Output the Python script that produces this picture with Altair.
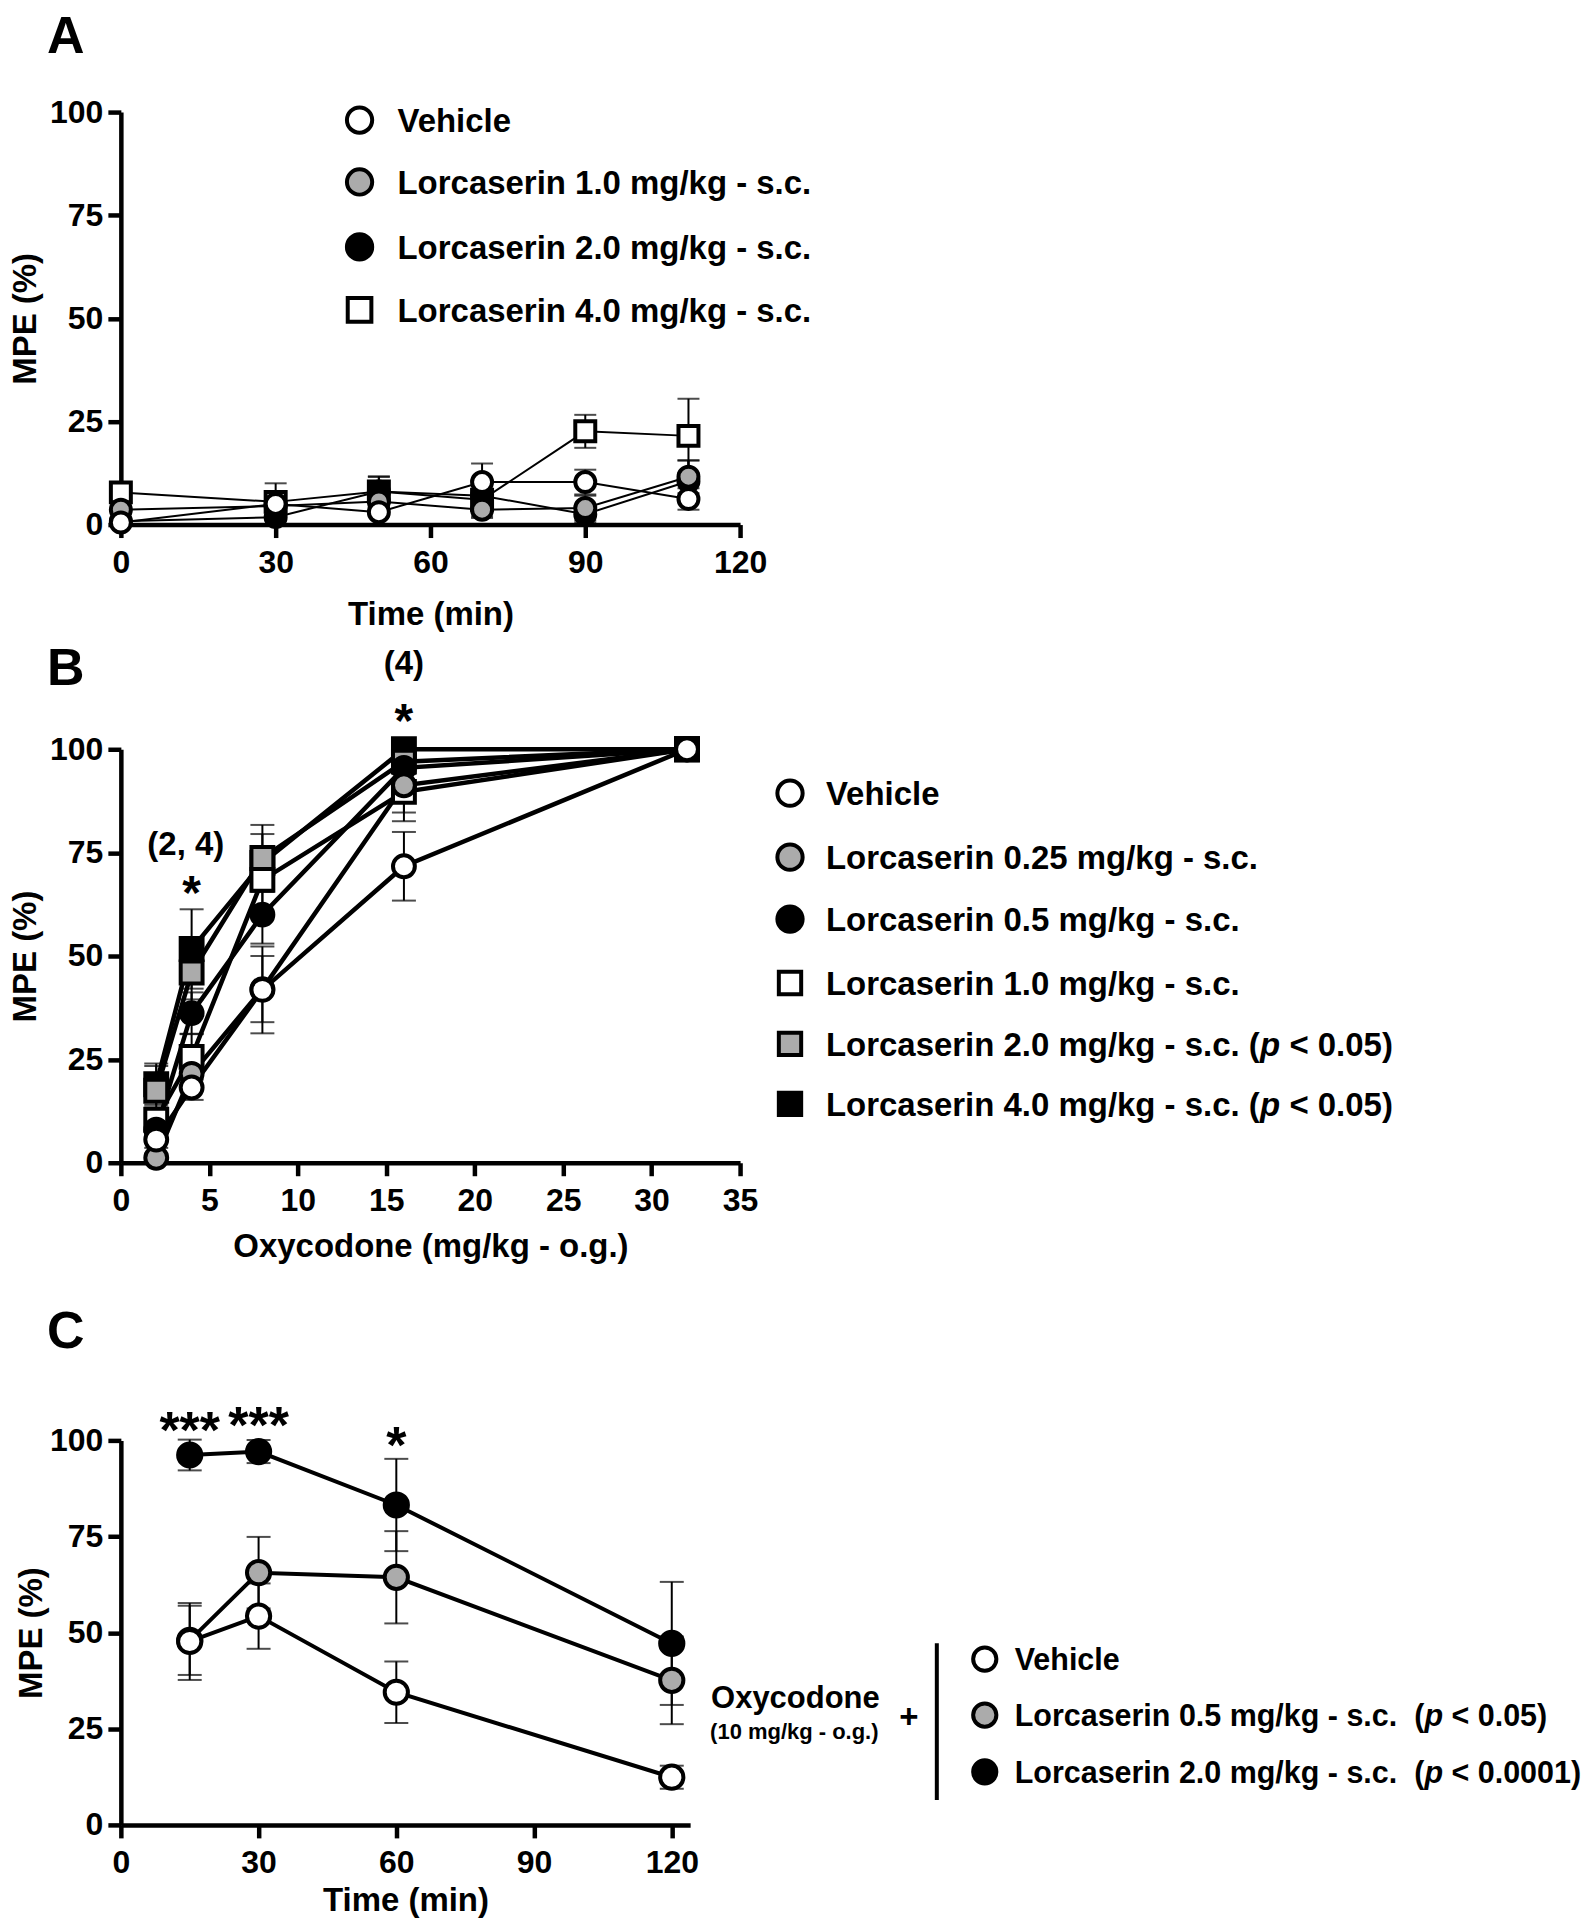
import altair as alt
import pandas as pd

FONT = "Liberation Sans"
GRAY = "#ababab"

# ---------------- Panel A data ----------------
A_time = [0, 30, 50, 70, 90, 110]
A_series = ["Vehicle", "Lorcaserin 1.0 mg/kg - s.c.", "Lorcaserin 2.0 mg/kg - s.c.",
            "Lorcaserin 4.0 mg/kg - s.c."]
A_vehicle = [0.5, 5.0, 3.0, 10.3, 10.3, 6.2]
A_vehicle_sem = [0.5, 2.0, 1.0, 4.5, 3.0, 2.6]
A_l10 = [3.6, 4.5, 5.6, 3.6, 4.0, 11.6]
A_l10_sem = [1.0, 1.5, 1.5, 2.0, 3.0, 4.0]
A_l20 = [0.8, 1.8, 8.0, 7.0, 2.5, 10.5]
A_l20_sem = [0.8, 3.0, 3.7, 3.0, 2.0, 5.0]
A_l40 = [7.8, 5.5, 8.0, 6.0, 22.6, 21.5]
A_l40_sem = [1.5, 4.5, 3.5, 4.0, 4.0, 9.0]
A_shapes = ["circle", "circle", "circle", "square"]
A_fills = ["white", GRAY, "black", "white"]

# ---------------- Panel B data ----------------
B_dose = [2, 4, 8, 16, 32]
B_series = ["Vehicle", "Lorcaserin 0.25 mg/kg - s.c.", "Lorcaserin 0.5 mg/kg - s.c.",
            "Lorcaserin 1.0 mg/kg - s.c.", "Lorcaserin 2.0 mg/kg - s.c.",
            "Lorcaserin 4.0 mg/kg - s.c."]
B_vehicle = [5.6, 18.2, 41.8, 71.7, 100]
B_vehicle_sem = [2.0, 3.0, 10.5, 8.3, 0]
B_l025 = [1.2, 21.5, 42.0, 91.3, 100]
B_l025_sem = [1.0, 3.0, 8.0, 8.7, 0]
B_l05 = [8.0, 36.2, 60.0, 95.5, 100]
B_l05_sem = [3.0, 5.0, 7.0, 4.0, 0]
B_l10 = [10.4, 25.6, 68.4, 89.7, 100]
B_l10_sem = [3.0, 5.5, 8.0, 5.0, 0]
B_l20 = [17.4, 46.0, 73.7, 97.0, 100]
B_l20_sem = [6.0, 6.5, 8.0, 3.0, 0]
B_l40 = [19.0, 51.7, 72.5, 100, 100]
B_l40_sem = [5.0, 9.6, 7.0, 0, 0]
B_shapes = ["circle", "circle", "circle", "square", "square", "square"]
B_fills = ["white", GRAY, "black", "white", GRAY, "black"]
B_pvals = [None, None, None, None, "< 0.05)", "< 0.05)"]
B_annot_x = [3.67, 4, 16, 16]
B_annot_y = [74.5, 61.4, 118.1, 103.0]
B_annot_t = ["(2, 4)", "*", "(4)", "*"]

# ---------------- Panel C data ----------------
C_time = [15, 30, 60, 120]
C_series = ["Vehicle", "Lorcaserin 0.5 mg/kg - s.c.", "Lorcaserin 2.0 mg/kg - s.c."]
C_vehicle = [47.7, 54.3, 34.5, 12.4]
C_vehicle_sem = [10.0, 8.5, 8.0, 3.0]
C_l05 = [48.0, 65.6, 64.4, 37.6]
C_l05_sem = [9.0, 9.3, 12.0, 11.4]
C_l20 = [96.2, 97.1, 83.2, 47.2]
C_l20_sem = [4.0, 3.0, 12.0, 16.0]
C_shapes = ["circle", "circle", "circle"]
C_fills = ["white", GRAY, "black"]
C_pvals = [None, "< 0.05)", "< 0.0001)"]
C_annot_x = [15, 30, 60]
C_annot_y = [98.1, 99.2, 94.1]
C_annot_t = ["***", "***", "*"]

# ---------------- helpers ----------------
AW = {' ': 278, '(': 333, ')': 333, '.': 278, ',': 278, '-': 333, '/': 278, '<': 584,
      'L': 611, 'o': 611, 'r': 389, 'c': 556, 'a': 556, 's': 556, 'e': 556, 'i': 278,
      'n': 611, 'm': 889, 'g': 611, 'k': 556, 'p': 611, 'V': 667, 'h': 611, 'l': 278}
MSW = 4  # marker stroke width


def tw(s, fs):
    return sum(AW.get(ch, 556) for ch in s) * fs / 1000.0


def long_df(xs, series, means, sems):
    rows = []
    for k, (s, m, e) in enumerate(zip(series, means, sems)):
        for x, v, err in zip(xs, m, e):
            rows.append(dict(x=x, y=v, lo=max(v - err, 0), hi=v + err, err=err,
                             series=s, draw=-k))
    return pd.DataFrame(rows)


def one():
    return pd.DataFrame({"a": [0]})


def txt(t, x, y, fs, align="left", style="normal", weight="bold"):
    return alt.Chart(one()).mark_text(
        text=t, font=FONT, fontSize=fs, fontWeight=weight, fontStyle=style,
        align=align, baseline="alphabetic", color="black"
    ).encode(x=alt.value(x), y=alt.value(y))


def sym(shape, fill, x, y, size):
    return alt.Chart(one()).mark_point(
        filled=True, shape=shape, fill=fill, stroke="black", strokeWidth=MSW,
        size=size, opacity=1, fillOpacity=1
    ).encode(x=alt.value(x), y=alt.value(y))


def legend_layers(series, shapes, fills, pvals, mx, tx, rows, fs, msize_c, msize_s, gap2=False):
    layers = []
    for i, s in enumerate(series):
        cy = rows[i]
        size = msize_c if shapes[i] == "circle" else msize_s
        layers.append(sym(shapes[i], fills[i], mx, cy, size))
        base_y = cy + 0.36 * fs
        if pvals is None or pvals[i] is None:
            layers.append(txt(s, tx, base_y, fs))
        else:
            if gap2:
                layers.append(txt(s, tx, base_y, fs))
                x1 = tx + tw(s, fs) + 2 * tw(" ", fs)
                layers.append(txt("(", x1, base_y, fs))
                x2 = x1 + tw("(", fs)
            else:
                first = s + " ("
                layers.append(txt(first, tx, base_y, fs))
                x2 = tx + tw(first, fs)
            layers.append(txt("p", x2, base_y, fs, style="italic"))
            x3 = x2 + tw("p", fs) + tw(" ", fs)
            layers.append(txt(pvals[i], x3, base_y, fs))
    return layers


def panel(df, series, shapes, fills, xdom, xvals, width, height, line_w, msize,
          cap_w, title_x, xtitle, xtitle_y, extra):
    xs = alt.Scale(domain=xdom, nice=False, zero=False)
    ys = alt.Scale(domain=[0, 100], nice=False)
    xaxis = alt.Axis(values=xvals, title=xtitle, titleY=xtitle_y,
                     titleBaseline="alphabetic", labelFlush=False, labelOverlap=False)
    yaxis = alt.Axis(values=[0, 25, 50, 75, 100], title="MPE (%)", titleX=title_x,
                     titleBaseline="alphabetic", labelOverlap=False)
    X = alt.X("x:Q", scale=xs, axis=xaxis)
    base = alt.Chart(df)
    errd = base.transform_filter("datum.err > 0")
    stems = errd.mark_rule(color="black", strokeWidth=2).encode(
        x=X, y=alt.Y("lo:Q", scale=ys, axis=yaxis), y2="hi:Q")
    cap_hi = errd.mark_tick(orient="horizontal", size=cap_w, thickness=2, color="black").encode(
        x=X, y=alt.Y("hi:Q", scale=ys, axis=yaxis))
    cap_lo = errd.mark_tick(orient="horizontal", size=cap_w, thickness=2, color="black").encode(
        x=X, y=alt.Y("lo:Q", scale=ys, axis=yaxis))
    lines = base.mark_line(color="black", strokeWidth=line_w).encode(
        x=X, y=alt.Y("y:Q", scale=ys, axis=yaxis), detail="series:N", order="x:Q")
    pts = base.mark_point(filled=True, stroke="black", strokeWidth=MSW, opacity=1,
                          fillOpacity=1, size=msize).encode(
        x=X, y=alt.Y("y:Q", scale=ys, axis=yaxis),
        fill=alt.Fill("series:N", scale=alt.Scale(domain=series, range=fills), legend=None),
        shape=alt.Shape("series:N", scale=alt.Scale(domain=series, range=shapes), legend=None),
        order=alt.Order("draw:Q"))
    layers = [stems, cap_hi, cap_lo, lines, pts]
    for e in extra:
        if isinstance(e, tuple):
            ax, ay, at, fs = e
            d = pd.DataFrame({"x": ax, "y": ay, "t": at})
            layers.append(alt.Chart(d).mark_text(
                font=FONT, fontSize=fs, fontWeight="bold", align="center",
                baseline="alphabetic", color="black").encode(
                x=X, y=alt.Y("y:Q", scale=ys, axis=yaxis), text="t:N"))
        else:
            layers.append(e)
    return alt.layer(*layers).properties(width=width, height=height)


# ---------------- Panel A ----------------
dfA = long_df(A_time, A_series, [A_vehicle, A_l10, A_l20, A_l40],
              [A_vehicle_sem, A_l10_sem, A_l20_sem, A_l40_sem])
extraA = [txt("A", -74, -59, 52)] + legend_layers(
    A_series, A_shapes, A_fills, None, 239, 277, [8, 70, 135, 198], 33, 640, 560)
pA = panel(dfA, A_series, A_shapes, A_fills, [0, 120], [0, 30, 60, 90, 120], 620, 413,
           2, 400, 22, -85, "Time (min)", 100, extraA)

# ---------------- Panel B ----------------
dfB = long_df(B_dose, B_series, [B_vehicle, B_l025, B_l05, B_l10, B_l20, B_l40],
              [B_vehicle_sem, B_l025_sem, B_l05_sem, B_l10_sem, B_l20_sem, B_l40_sem])
extraB = [txt("B", -74, -64, 52),
          ([B_annot_x[0], B_annot_x[2]], [B_annot_y[0], B_annot_y[2]], [B_annot_t[0], B_annot_t[2]], 33),
          ([B_annot_x[1], B_annot_x[3]], [B_annot_y[1], B_annot_y[3]], [B_annot_t[1], B_annot_t[3]], 48)]
extraB += legend_layers(B_series, B_shapes, B_fills, B_pvals, 670, 706,
                        [44, 108, 170, 234, 295, 355], 33, 640, 500)
pB = panel(dfB, B_series, B_shapes, B_fills, [0, 35], [0, 5, 10, 15, 20, 25, 30, 35], 620, 414,
           4.5, 480, 24, -85, "Oxycodone (mg/kg - o.g.)", 94, extraB)

# ---------------- Panel C ----------------
dfC = long_df(C_time, C_series, [C_vehicle, C_l05, C_l20],
              [C_vehicle_sem, C_l05_sem, C_l20_sem])
extraC = [txt("C", -74, -93, 52),
          (C_annot_x, C_annot_y, C_annot_t, 52),
          txt("Oxycodone", 591, 268, 31),
          txt("(10 mg/kg - o.g.)", 590, 299, 22),
          txt("+", 789, 288, 33, align="center"),
          alt.Chart(one()).mark_rule(color="black", strokeWidth=4).encode(
              x=alt.value(817), y=alt.value(203), y2=alt.value(360))]
extraC += legend_layers(C_series, C_shapes, C_fills, C_pvals, 865, 895,
                        [219, 275, 332], 30.5, 540, 540, gap2=True)
pC = panel(dfC, C_series, C_shapes, C_fills, [0, 124], [0, 30, 60, 90, 120], 570, 385,
           4, 540, 24, -79, "Time (min)", 85.5, extraC)


def spacer(h):
    return alt.Chart(one()).mark_point(opacity=0).encode(
        x=alt.value(0), y=alt.value(0)).properties(width=620, height=h)


chart = alt.vconcat(pA, spacer(225), pB, spacer(278), pC, spacing=0, bounds="flush").resolve_scale(
    fill="independent", shape="independent"
).configure(
    font=FONT, padding={"left": 2, "top": 2, "right": 0, "bottom": 0}
).configure_view(stroke=None).configure_axis(
    domainColor="black", domainWidth=4.5, tickColor="black", tickWidth=4.5, tickSize=13,
    labelColor="black", labelFont=FONT, labelFontSize=32, labelFontWeight="bold",
    titleFont=FONT, titleFontSize=33, titleFontWeight="bold", titleColor="black", grid=False
).configure_axisX(labelPadding=10).configure_axisY(labelPadding=5)

chart.save("out.html", embed_options={"renderer": "svg", "actions": False})
